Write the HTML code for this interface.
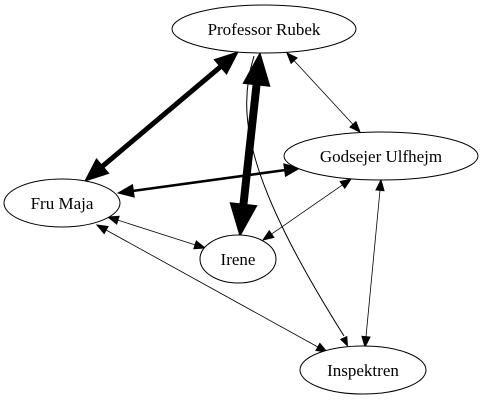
<!DOCTYPE html>
<html><head><meta charset="utf-8">
<style>html,body{margin:0;padding:0;background:#fff;}svg{display:block;}
text{font-family:"Liberation Serif",serif;font-size:17px;}</style></head>
<body>
<svg id="g" width="487" height="400" viewBox="0 0 487 400"></svg>
<script>
const nodeNames = ["Professor Rubek","Godsejer Ulfhejm","Fru Maja","Irene","Inspektren"];
const nodeCx = [264,381,62,238,363];
const nodeCy = [29,156,203,259,370];
const nodeRx = [92,97,58,38,63];
const edgeFrom = [2,0,2,2,2,1,1,0];
const edgeTo   = [0,3,1,3,4,3,4,1];
const edgeWidth = [5,8,2.5,0.8,0.8,0.8,0.8,0.8];
const edgeStart = [[85,181],[260,53],[118,193],[108,217],[97,225],[351,179],[381,180],[287,53]];
const edgeEnd   = [[238,52],[240,236],[300,168],[205,248],[327,352],[263,240],[365,347],[360,132]];
const NS="http://www.w3.org/2000/svg";
const svg=document.getElementById('g');
function el(t,a){const e=document.createElementNS(NS,t);for(const k in a)e.setAttribute(k,a[k]);svg.appendChild(e);return e;}
function head(tip,from,w){
  const dx=tip[0]-from[0],dy=tip[1]-from[1],L=Math.hypot(dx,dy),ux=dx/L,uy=dy/L;
  const len=8+w*3,hw=3+w*1.3;
  const bx=tip[0]-ux*len,by=tip[1]-uy*len;
  return [[tip[0],tip[1]],[bx-uy*hw,by+ux*hw],[bx+uy*hw,by-ux*hw],[bx,by]];
}
const cur=el('path',{d:"M254,56 C236,115 246,180 344,336",fill:"none",stroke:"#000","stroke-width":1});


const ch=head([348,347],[340,330],0.8);
const curH=el('polygon',{points:ch.slice(0,3).map(p=>p.join(',')).join(' '),fill:"#000"});


for(let i=0;i<edgeFrom.length;i++){
  const s=edgeStart[i],e=edgeEnd[i],w=edgeWidth[i];
  const h1=head(e,s,w),h2=head(s,e,w);
  const ln=el('line',{x1:h2[3][0],y1:h2[3][1],x2:h1[3][0],y2:h1[3][1],stroke:"#000","stroke-width":w});
  
  
  [h1,h2].forEach(h=>{
    const p=el('polygon',{points:h.slice(0,3).map(q=>q.join(',')).join(' '),fill:"#000",stroke:"#000","stroke-width":1});
    
    
  });
}
for(let i=0;i<nodeNames.length;i++){
  const g=document.createElementNS(NS,'g');svg.appendChild(g);
  
  
  const e=document.createElementNS(NS,'ellipse');
  e.setAttribute('cx',nodeCx[i]);e.setAttribute('cy',nodeCy[i]);e.setAttribute('rx',nodeRx[i]);e.setAttribute('ry',24);
  e.setAttribute('fill','#fff');e.setAttribute('stroke','#000');e.setAttribute('stroke-width','1');
  g.appendChild(e);
  const t=document.createElementNS(NS,'text');
  t.setAttribute('x',nodeCx[i]);t.setAttribute('y',nodeCy[i]+6);t.setAttribute('text-anchor','middle');
  
  
  t.textContent=nodeNames[i];g.appendChild(t);
}
</script>
</body></html>
